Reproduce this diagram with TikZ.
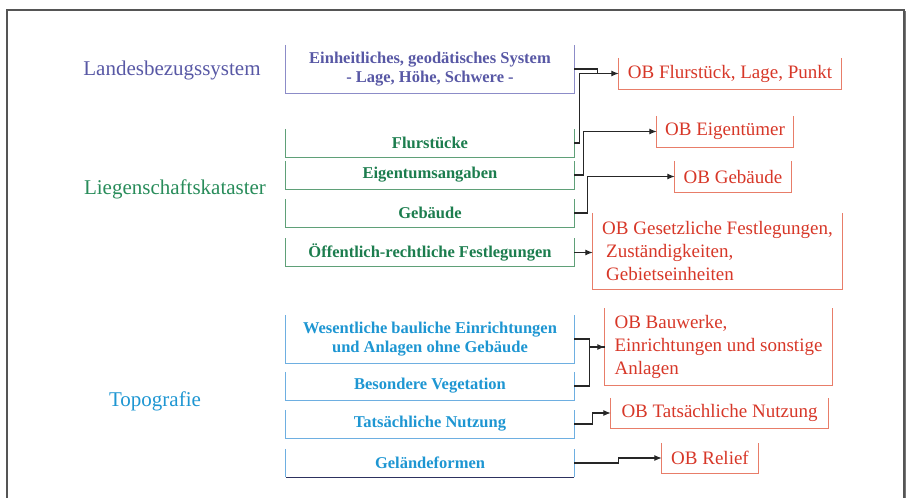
\documentclass[tikz,border=0pt]{standalone}
\usepackage{fontspec}
\setmainfont{Liberation Serif}
\usetikzlibrary{arrows.meta}
\definecolor{purpTxt}{RGB}{88,88,165}
\definecolor{purpLn}{RGB}{140,140,200}
\definecolor{grnTxt}{RGB}{28,125,78}
\definecolor{grnLbl}{RGB}{40,140,90}
\definecolor{grnLn}{RGB}{95,160,120}
\definecolor{bluTxt}{RGB}{30,150,210}
\definecolor{bluLn}{RGB}{110,175,225}
\definecolor{redTxt}{RGB}{215,55,40}
\definecolor{redLn}{RGB}{232,125,105}
\definecolor{frameC}{RGB}{85,85,85}
\definecolor{navyLn}{RGB}{45,50,95}
\newcommand\bracketbox[2]{\draw[#2] (#1.north west) |- (#1.south east) -- (#1.north east);}
\begin{document}
\begin{tikzpicture}[x=1pt,y=-1pt,
  grp/.style={font=\fontsize{21}{24}\selectfont, inner sep=0pt},
  lbox/.style={minimum width=288pt, minimum height=28pt, inner sep=0pt, align=center,
    font=\fontsize{16.5}{20}\selectfont\bfseries},
  rbox/.style={inner sep=0pt, align=left, text=redTxt,
    font=\fontsize{19}{23}\selectfont},
  bline/.style={line width=1.3pt},
  conn/.style={draw=black!85, line width=1.1pt},
  arr/.style={conn, -{Latex[length=7.5pt,width=6pt]}}
]
\useasboundingbox (0,0) rectangle (906,498);
% frame
\draw[frameC, line width=1.3pt] (7,498) -- (7,10) -- (904,10) -- (904,498);
\draw[frameC!80, line width=1.3pt] (905.5,11) -- (905.5,498);

% group labels
\node[grp, text=purpTxt] (lgL) at (172,70) {Landesbezugssystem};
\node[grp, text=grnLbl] (lgG) at (175,189) {Liegenschaftskataster};
\node[grp, text=bluTxt] (lgT) at (155,401) {Topografie};

% left boxes
\node[lbox, text=purpTxt, minimum height=48pt] (sys) at (430,69) {Einheitliches, geodätisches System\\[-1pt]- Lage, Höhe, Schwere -};
\node[lbox, text=grnTxt] (flur) at (430,143) {Flurstücke};
\node[lbox, text=grnTxt] (eig) at (430,175) {Eigentumsangaben};
\node[lbox, text=grnTxt] (geb) at (430,213) {Gebäude};
\node[lbox, text=grnTxt] (oef) at (430,252.5) {Öffentlich-rechtliche Festlegungen};
\node[lbox, text=bluTxt, minimum height=48pt] (wes) at (430,339) {Wesentliche bauliche Einrichtungen\\[-1pt]und Anlagen ohne Gebäude};
\node[lbox, text=bluTxt] (bes) at (430,386) {Besondere Vegetation};
\node[lbox, text=bluTxt] (tat) at (430,424) {Tatsächliche Nutzung};
\node[lbox, text=bluTxt] (gel) at (430,463) {Geländeformen};

\bracketbox{sys}{purpLn, bline}
\bracketbox{flur}{grnLn, bline}
\bracketbox{eig}{grnLn, bline}
\bracketbox{geb}{grnLn, bline}
\bracketbox{oef}{grnLn, bline}
\bracketbox{wes}{bluLn, bline}
\bracketbox{bes}{bluLn, bline}
\bracketbox{tat}{bluLn, bline}
\draw[bluLn, bline] (gel.north west) -- (gel.south west);
\draw[bluLn, bline] (gel.south east) -- (gel.north east);
\draw[navyLn, bline] (gel.south west) -- (gel.south east);

% right boxes
\node[rbox, minimum width=222pt, minimum height=31pt] (r1) at (730,73.5) {OB Flurstück, Lage, Punkt};
\node[rbox, minimum width=136pt, minimum height=31pt] (r2) at (725,131.5) {OB Eigentümer};
\node[rbox, minimum width=116pt, minimum height=31pt] (r3) at (733,176.5) {OB Gebäude};
\node[rbox, minimum width=249pt, minimum height=76pt] (r4) at (717.5,251) {OB Gesetzliche Festlegungen,\\\hspace{4pt}Zuständigkeiten,\\\hspace{4pt}Gebietseinheiten};
\node[rbox, minimum width=227pt, minimum height=77pt] (r5) at (718.5,347) {OB Bauwerke,\\Einrichtungen und sonstige\\Anlagen};
\node[rbox, minimum width=217pt, minimum height=30pt] (r6) at (719.5,413) {OB Tatsächliche Nutzung};
\node[rbox, minimum width=96pt, minimum height=30pt] (r7) at (710,458) {OB Relief};

\foreach \n in {r1,r2,r3,r4,r5,r6,r7}{\bracketbox{\n}{redLn, bline}}

% connectors
\draw[arr] (sys.east) -- ++(23,0) |- (r1.west);
\draw[conn] (flur.east) -- ++(5,0) |- ([xshift=-22pt]r1.west);
\draw[arr] (eig.east) -- ++(9,0) |- (r2.west);
\draw[arr] (geb.east) -- ++(13,0) |- (r3.west);
\draw[arr] (oef.east) -- (oef.east -| r4.west);
\draw[arr] (wes.east) -- ++(15,0) |- (r5.west);
\draw[conn] (bes.east) -- ++(15,0) |- (r5.west);
\draw[arr] (tat.east) -- ++(18,0) |- (r6.west);
\draw[arr] (gel.east) -- ++(44,0) |- (r7.west);
\end{tikzpicture}
\end{document}
